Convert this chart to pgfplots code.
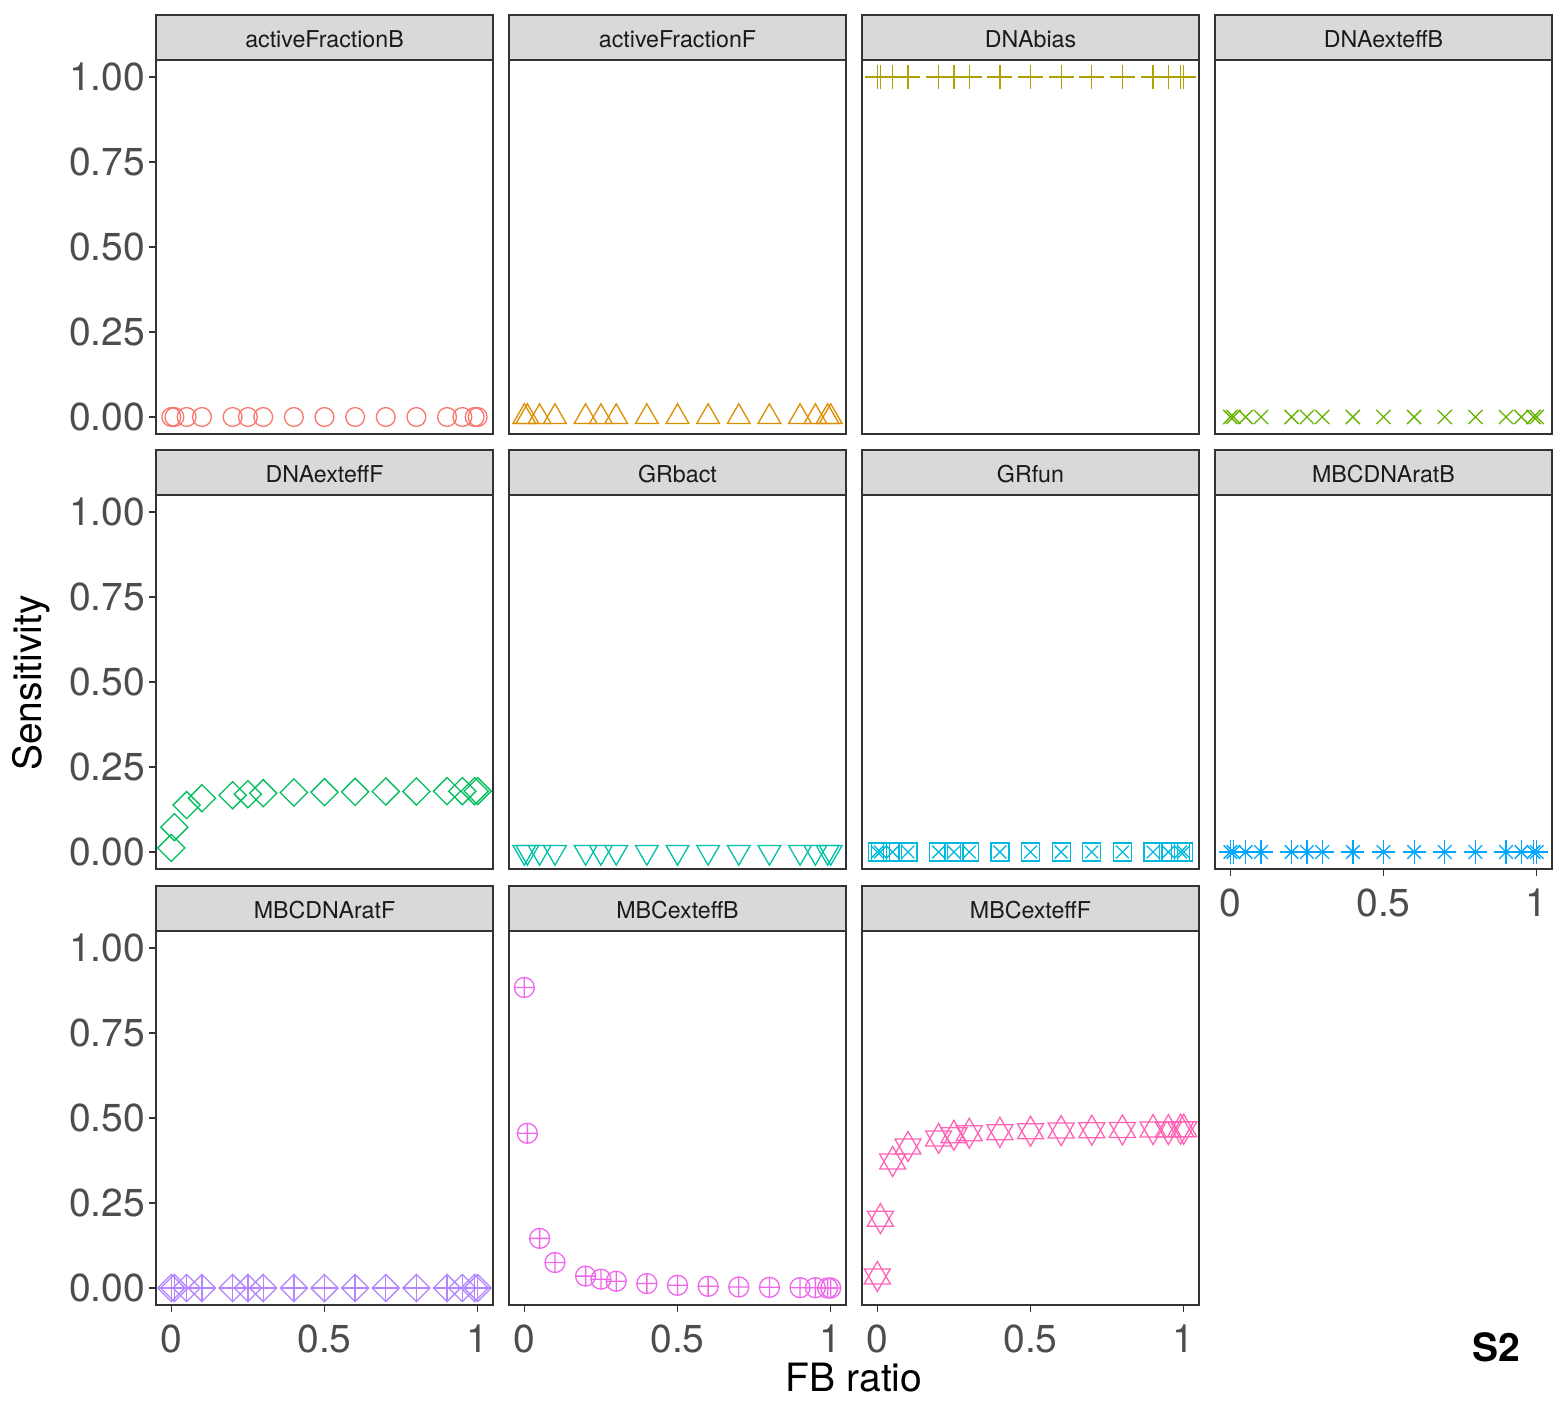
\documentclass[border=0pt]{standalone}
\usepackage{pgfplots}
\pgfplotsset{compat=1.18}
\usepackage{pgfplotstable}
\usepackage{fontspec}
\setmainfont{TeX Gyre Heros}
\definecolor{h1}{HTML}{F8766D}
\definecolor{h2}{HTML}{DB8E00}
\definecolor{h3}{HTML}{AEA200}
\definecolor{h4}{HTML}{64B200}
\definecolor{h5}{HTML}{00BD5C}
\definecolor{h6}{HTML}{00C1A7}
\definecolor{h7}{HTML}{00BADE}
\definecolor{h8}{HTML}{00A6FF}
\definecolor{h9}{HTML}{B385FF}
\definecolor{h10}{HTML}{EF67EB}
\definecolor{h11}{HTML}{FF63B6}
\definecolor{c20}{HTML}{333333}
\definecolor{c30}{HTML}{4D4D4D}
\definecolor{c85}{HTML}{D9D9D9}
\definecolor{c10}{HTML}{1A1A1A}

\pgfplotstableread{
x zero one dnaF mbcB mbcF
0 0 1 0.012 0.884 0.034
0.01 0 1 0.073 0.455 0.204
0.05 0 1 0.138 0.146 0.372
0.1 0 1 0.158 0.075 0.416
0.2 0 1 0.167 0.035 0.440
0.25 0 1 0.170 0.026 0.449
0.3 0 1 0.173 0.020 0.455
0.4 0 1 0.175 0.013 0.458
0.5 0 1 0.176 0.008 0.461
0.6 0 1 0.177 0.005 0.463
0.7 0 1 0.178 0.003 0.464
0.8 0 1 0.178 0.002 0.465
0.9 0 1 0.179 0.001 0.466
0.95 0 1 0.179 0.001 0.466
0.99 0 1 0.179 0.000 0.467
1 0 1 0.179 0.000 0.467
}\data

\pgfplotsset{
 panel/.style={
  scale only axis, width=168.5pt, height=187pt,
  anchor=south west,
  xmin=-0.05, xmax=1.05, ymin=-0.05, ymax=1.05,
  xtick=\empty, ytick=\empty,
  axis line style={draw=c20, line width=1pt},
  tick style={draw=c20, line width=0.6pt},
  tick align=outside, major tick length=3.5pt,
  xtick pos=lower, ytick pos=left,
  /pgf/number format/assume math mode=true,
  ticklabel style={font=\fontsize{19.5}{20}\selectfont, text=c30},
  yticklabel style={/pgf/number format/fixed, /pgf/number format/fixed zerofill, /pgf/number format/precision=2},
  every axis plot/.append style={only marks, line width=0.65pt, mark options={solid, line width=0.65pt}},
 },
 ylab/.style={ytick={0,0.25,0.5,0.75,1}, yticklabel style={xshift=1.5pt}},
 xlab/.style={xtick={0,0.5,1}, xticklabel style={yshift=-3pt}},
}

\newcommand{\strip}[3]{%
  \draw[fill=c85, draw=c20, line width=1pt] (#1,#2) rectangle ++(168.5pt,22.5pt);
  \node[text=c10, font=\fontsize{11.6}{12}\selectfont] at ([xshift=84.25pt,yshift=10.5pt]#1,#2) {#3};
}

\begin{document}
\begin{tikzpicture}
\path[use as bounding box] (0,0) rectangle (784pt,-703pt);

% Row 1
\begin{axis}[panel, ylab, at={(78pt,-217pt)}]
\addplot[color=h1, mark=o, mark size=4.7pt] table[x=x,y=zero]{\data};
\end{axis}
\begin{axis}[panel, at={(254.5pt,-217pt)}]
\addplot[color=h2, mark=triangle, mark size=6.6pt] table[x=x,y=zero]{\data};
\end{axis}
\begin{axis}[panel, at={(431pt,-217pt)}]
\addplot[color=h3, mark=+, mark size=6.2pt] table[x=x,y=one]{\data};
\end{axis}
\begin{axis}[panel, at={(607.5pt,-217pt)}]
\addplot[color=h4, mark=x, mark size=5pt] table[x=x,y=zero]{\data};
\end{axis}

% Row 2
\begin{axis}[panel, ylab, at={(78pt,-434.5pt)}]
\addplot[color=h5, mark=square, mark size=4.8pt, mark options={rotate=45}] table[x=x,y=dnaF]{\data};
\end{axis}
\begin{axis}[panel, at={(254.5pt,-434.5pt)}]
\addplot[color=h6, mark=triangle, mark size=6.6pt, mark options={rotate=180}] table[x=x,y=zero]{\data};
\end{axis}
\begin{axis}[panel, at={(431pt,-434.5pt)}]
\addplot[color=h7, mark=square, mark size=4.5pt] table[x=x,y=zero]{\data};
\addplot[color=h7, mark=x, mark size=4.5pt] table[x=x,y=zero]{\data};
\end{axis}
\begin{axis}[panel, xlab, at={(607.5pt,-434.5pt)}]
\addplot[color=h8, mark=+, mark size=5.8pt] table[x=x,y=zero]{\data};
\addplot[color=h8, mark=x, mark size=4.8pt] table[x=x,y=zero]{\data};
\end{axis}

% Row 3
\begin{axis}[panel, ylab, xlab, at={(78pt,-652.5pt)}]
\addplot[color=h9, mark=square, mark size=4.8pt, mark options={rotate=45}] table[x=x,y=zero]{\data};
\addplot[color=h9, mark=+, mark size=6.8pt] table[x=x,y=zero]{\data};
\end{axis}
\begin{axis}[panel, xlab, at={(254.5pt,-652.5pt)}]
\addplot[color=h10, mark=oplus, mark size=5pt] table[x=x,y=mbcB]{\data};
\end{axis}
\begin{axis}[panel, xlab, at={(431pt,-652.5pt)}]
\addplot[color=h11, mark=triangle, mark size=7.5pt] table[x=x,y=mbcF]{\data};
\addplot[color=h11, mark=triangle, mark size=7.5pt, mark options={rotate=180}] table[x=x,y=mbcF]{\data};
\end{axis}

% Strips
\strip{78pt}{-30pt}{activeFractionB}
\strip{254.5pt}{-30pt}{activeFractionF}
\strip{431pt}{-30pt}{DNAbias}
\strip{607.5pt}{-30pt}{DNAexteffB}
\strip{78pt}{-247.5pt}{DNAexteffF}
\strip{254.5pt}{-247.5pt}{GRbact}
\strip{431pt}{-247.5pt}{GRfun}
\strip{607.5pt}{-247.5pt}{MBCDNAratB}
\strip{78pt}{-465.5pt}{MBCDNAratF}
\strip{254.5pt}{-465.5pt}{MBCexteffB}
\strip{431pt}{-465.5pt}{MBCexteffF}

% Titles
\node[rotate=90, font=\fontsize{19.5}{20}\selectfont] at (15.5pt,-341.5pt) {Sensitivity};
\node[font=\fontsize{19.5}{20}\selectfont] at (427pt,-689pt) {FB ratio};
\node[font=\bfseries\fontsize{19.5}{20}\selectfont] at (748pt,-673.5pt) {S2};
\end{tikzpicture}
\end{document}
